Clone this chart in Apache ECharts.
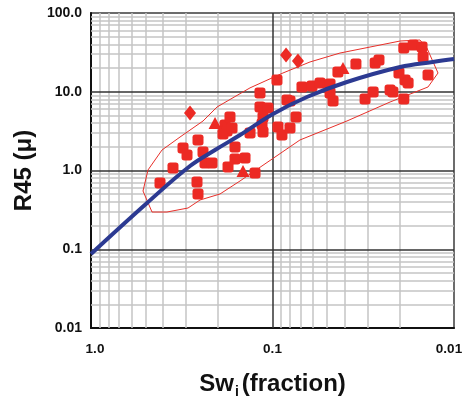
<!DOCTYPE html>
<html><head><meta charset="utf-8">
<script src="https://cdn.jsdelivr.net/npm/echarts@6/dist/echarts.min.js"></script>
<style>html,body{margin:0;padding:0;background:#fff}#c{width:465px;height:400px}</style>
</head><body><div id="c"></div>
<script>
// Sw_i (fraction), R45 (micron)
const squarePoints = [
  [0.2573,2.44],[0.3112,1.93],[0.2958,1.57],[0.2415,1.72],[0.2354,1.245],[0.2154,1.245],
  [0.3534,1.076],[0.4167,0.694],[0.2606,0.714],[0.2573,0.503],[0.1827,3.78],[0.1781,3.17],
  [0.1874,2.91],[0.1715,4.78],[0.1609,1.99],[0.1758,1.108],[0.1609,1.40],[0.1417,1.44],
  [0.1248,0.93],[0.1671,3.46],[0.133,2.99],[0.1172,9.64],[0.1172,6.40],[0.1059,6.22],
  [0.1128,4.78],[0.1142,3.89],[0.1128,3.08],[0.0945,14.1],[0.0933,3.57],[0.0887,2.82],
  [0.0832,7.86],[0.0801,7.63],[0.0801,3.46],[0.0742,4.78],[0.0688,11.5],[0.0606,11.8],
  [0.0547,12.9],[0.0482,12.5],[0.0482,9.64],[0.0464,7.63],[0.0436,17.8],[0.0347,22.5],
  [0.0272,23.2],[0.0259,25.3],[0.0279,9.93],[0.0309,8.09],[0.0225,10.5],[0.0217,9.93],
  [0.0201,17.3],[0.0186,14.1],[0.0179,12.9],[0.0189,8.09],[0.0189,35.9],[0.0168,39.2],
  [0.0150,37.0],[0.0148,27.6],[0.0139,16.3]
];
const diamondPoints = [[0.2847,5.37],[0.0842,29.3],[0.0724,24.6]];
const trianglePoints = [[0.2073,4.01],[0.1454,0.986],[0.0409,20.0]];
const trendLine = [
  [1,0.0871],[0.4913,0.3867],[0.2847,1.14],[0.2073,1.82],[0.151,2.82],[0.0994,5.22],
  [0.0646,8.58],[0.0389,13.3],[0.0198,20.6],[0.0131,23.9],[0.01,26.1]
];
const envelope = [
  [0.517,0.549],[0.4853,1.015],[0.4063,1.82],[0.3233,2.66],[0.2415,4.25],[0.2021,6.40],
  [0.133,11.2],[0.0876,17.3],[0.0621,23.9],[0.0425,31.0],[0.0198,44.1],[0.0154,45.4],
  [0.0141,35.9],[0.01225,17.3],[0.0139,11.5],[0.0225,7.41],[0.0389,4.25],[0.0706,2.44],
  [0.151,0.736],[0.1947,0.503],[0.2508,0.422],[0.292,0.334],[0.3814,0.297],[0.4612,0.297],
  [0.517,0.549]
];
const xTicks = [1,0.1,0.01];
const xTickLabels = ['1.0','0.1','0.01'];
const yTicks = [0.01,0.1,1,10,100];
const yTickLabels = ['0.01','0.1','1.0','10.0','100.0'];
const xMinor = [0.02,0.03,0.04,0.05,0.06,0.07,0.08,0.09,0.2,0.3,0.4,0.5,0.6,0.7,0.8,0.9];
const yMinor = [0.02,0.03,0.04,0.05,0.06,0.07,0.08,0.09,0.2,0.3,0.4,0.5,0.6,0.7,0.8,0.9,
  2,3,4,5,6,7,8,9,20,30,40,50,60,70,80,90];
const xMajorInner = [0.1];
const yMajorInner = [0.1,1,10];

function findTick(ticks, v){
  for (let i=0;i<ticks.length;i++){
    if (Math.abs(Math.log10(v)-Math.log10(ticks[i]))<1e-6) return i;
  }
  return -1;
}
function fmt(ticks, labels){
  return function(v){ const i=findTick(ticks,v); return i<0?'':labels[i]; };
}
function fmtX(v){
  const i=findTick(xTicks,v);
  if (i<0) return '';
  const st = i===0 ? 'l' : (i===xTicks.length-1 ? 'r' : 'm');
  return '{'+st+'|'+xTickLabels[i]+'}';
}
const RED = '#ec2a24';
const FONT = 'Liberation Sans, Arial, sans-serif';
const xl = {fontFamily:FONT,fontWeight:'bold',fontSize:13.5,color:'#111'};
const chart = echarts.init(document.getElementById('c'), null, {renderer:'canvas'});
chart.setOption({
  animation:false,
  backgroundColor:'#fff',
  grid:{left:91,right:11,top:13,bottom:72,outerBoundsMode:'none',containLabel:false,show:true,borderColor:'#3c3c3c',borderWidth:1.5,backgroundColor:'transparent'},
  xAxis:{type:'log',logBase:10,min:0.01,max:1,inverse:true,splitNumber:2,
    axisLine:{show:true,lineStyle:{color:'#111',width:2}},axisTick:{show:false},
    splitLine:{show:false},
    axisLabel:{fontFamily:FONT,fontWeight:'bold',fontSize:13.5,color:'#111',margin:14,formatter:fmtX,
      rich:{l:Object.assign({padding:[0,0,0,8]},xl),m:Object.assign({},xl),r:Object.assign({padding:[0,10,0,0]},xl)}},
    name:'{a|Sw}{s|i}{a|(fraction)}',nameLocation:'middle',nameGap:42,
    nameTextStyle:{rich:{a:{fontFamily:FONT,fontWeight:'bold',fontSize:24,color:'#111'},
      s:{fontFamily:FONT,fontWeight:'bold',fontSize:14,color:'#111',verticalAlign:'bottom',padding:[15,3,0,1]}}}},
  yAxis:{type:'log',logBase:10,min:0.01,max:100,splitNumber:4,
    axisLine:{show:true,lineStyle:{color:'#111',width:2}},axisTick:{show:false},
    splitLine:{show:false},
    axisLabel:{fontFamily:FONT,fontWeight:'bold',fontSize:14,color:'#111',margin:9,formatter:fmt(yTicks,yTickLabels)},
    name:'R45 (\u03bc)',nameLocation:'middle',nameGap:48,
    nameTextStyle:{fontFamily:FONT,fontWeight:'bold',fontSize:24,color:'#111'}},
  series:[
    {type:'scatter',data:[],z:1,silent:true,
      markLine:{z:1,silent:true,symbol:'none',label:{show:false},animation:false,
        lineStyle:{type:'solid',color:'#c4c4c4',width:1.5,opacity:1},
        data:xMinor.map(v=>({xAxis:v})).concat(yMinor.map(v=>({yAxis:v})))}},
    {type:'scatter',data:[],z:1,silent:true,
      markLine:{z:1,silent:true,symbol:'none',label:{show:false},animation:false,
        lineStyle:{type:'solid',color:'#333',width:1.5,opacity:1},
        data:xMajorInner.map(v=>({xAxis:v})).concat(yMajorInner.map(v=>({yAxis:v})))}},
    {type:'line',data:envelope,z:3,showSymbol:false,symbol:'none',smooth:false,
      lineStyle:{color:'#e8302a',width:1},silent:true},
    {type:'scatter',data:squarePoints,z:4,symbol:'roundRect',symbolSize:11,itemStyle:{color:RED,opacity:1}},
    {type:'scatter',data:diamondPoints,z:4,symbol:'diamond',symbolSize:[12,15],itemStyle:{color:RED,opacity:1}},
    {type:'scatter',data:trianglePoints,z:4,symbol:'triangle',symbolSize:[13,12],itemStyle:{color:RED,opacity:1}},
    {type:'line',data:trendLine,z:5,showSymbol:false,symbol:'none',smooth:0.4,
      lineStyle:{color:'#2c3a92',width:4},silent:true}
  ]
});
</script></body></html>
